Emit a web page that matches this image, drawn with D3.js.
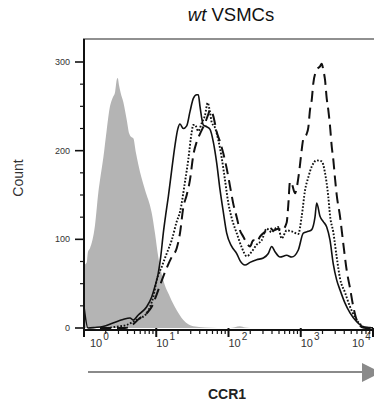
<!DOCTYPE html>
<html><head><meta charset="utf-8">
<script src="https://cdn.jsdelivr.net/npm/d3@7"></script>
<style>
html,body{margin:0;padding:0;background:#fff;}
svg{display:block;font-family:"Liberation Sans",Arial,sans-serif;}
</style></head>
<body>
<svg id="chart" width="374" height="405"></svg>
<script>
// ---- data (CCR1 intensity, count) ----
const isotype = [[1.00,71],[1.09,74],[1.136,86],[1.21,90],[1.42,116],[1.58,153],[1.665,167],[1.85,192],[2.06,223],[2.29,250],[2.42,257],[2.54,261],[2.69,266],[2.84,280],[2.93,282],[3.05,274],[3.22,265],[3.50,255],[3.90,235],[4.24,219],[4.57,215],[4.81,214],[5.25,197],[5.96,176],[6.98,156],[8.65,130],[9.61,107],[10.67,80],[12.5,54],[15.5,35],[19.2,20],[23.7,9],[32.6,2],[47.3,0.6],[105,0],[144,2],[170,0.5],[199,0],[10000,0]];
const solid = [[1.00,24],[1.136,0],[1.42,0.6],[1.83,1.7],[2.52,5.6],[3.47,9.6],[4.33,11.3],[4.81,9],[5.64,14.7],[7.38,24],[8.65,35],[9.61,47],[10.67,62],[11.52,80],[12.52,107],[13.65,130],[14.68,148],[16.36,178],[18.17,206],[19.81,224],[21.32,230],[23.67,225],[26.4,228],[29.3,244],[32.6,259],[36.3,263],[38.2,263],[40.3,250],[44.8,229],[49.9,227],[55.5,224],[61.6,210],[68.7,186],[76.3,156],[84.7,131],[94.4,107],[110.7,92],[129.9,84],[144.3,76],[169.2,71],[198.5,74],[245.5,77],[303.2,79],[355.6,84],[396.3,92],[440.2,86],[516.3,80],[639,82],[749.5,80],[924.7,88],[1085,107],[1272,109],[1418,111],[1574,125],[1663,141],[1847,126],[2051,120],[2287,114],[2541,99],[2822,72],[3146,54],[3494,43],[4099,28],[4806,17],[5948,7],[7340,1.5],[9090,0.6],[10000,0]];
const dotted = [[1.665,0],[1.95,0],[2.84,1.5],[3.90,3.4],[4.81,7.1],[5.96,10.9],[7.38,16.6],[8.20,24],[9.10,35],[10.15,54],[11.9,69],[13.95,84],[16.36,99],[19.19,120],[21.32,131],[25.0,165],[27.77,190],[30.96,221],[32.57,229],[34.4,229],[38.2,222],[42.56,231],[47.3,240],[51.5,254],[55.5,243],[58.56,232],[65.05,226],[72.25,212],[80.5,192],[89.4,167],[99.4,141],[110.7,124],[129.9,107],[152.3,91],[178.6,81],[209.5,86],[245.5,94],[288.1,99],[337.9,112],[396.3,108],[440.2,112],[484.2,114],[544.9,101],[639,110],[749.5,109],[924.7,106],[1031,126],[1145,155],[1272,170],[1418,182],[1663,189],[1950,188],[2166,175],[2406,148],[2541,127],[2822,108],[3146,80],[3494,56],[4099,40],[4806,24],[5636,12],[6609,4.5],[8181,0],[10000,0]];
const dashed = [[1.665,0],[3.69,0],[4.33,1.7],[5.96,11.3],[7.38,16.6],[8.65,24],[10.15,38],[11.27,48],[13.21,63],[16.36,80],[19.19,90],[21.32,107],[23.67,136],[26.4,150],[29.3,167],[32.57,195],[36.3,210],[40.3,219],[47.3,231],[52.5,241],[55.5,246],[61.6,239],[68.7,221],[76.3,210],[84.7,197],[94.4,180],[104.9,160],[116.5,140],[129.9,125],[144.3,110],[160.3,103],[178.6,96],[198.5,92],[220.4,99],[245.5,97],[272.9,103],[337.9,110],[375.3,113],[416.9,110],[489,112],[544.9,110],[639,119],[672.5,139],[710,165],[756.8,162],[832.6,152],[924.7,169],[976.3,184],[1031,201],[1085,213],[1209,219],[1272,226],[1343,246],[1418,257],[1492,276],[1663,291],[1847,295],[1950,298],[2051,291],[2166,280],[2287,259],[2406,246],[2541,228],[2682,205],[2822,190],[2979,169],[3146,150],[3494,126],[3882,95],[4325,65],[4806,45],[5338,24],[5948,9],[6975,1.1],[8000,0],[10000,0]];
const yMajorTicks = [0, 100, 200, 300];
const yMinorTicks = [25, 50, 75, 125, 150, 175, 225, 250, 275];
const xDecades = [0, 1, 2, 3, 4];
const titleItalic = "wt";
const titleRest = " VSMCs";
const xLabel = "CCR1";
const yLabel = "Count";

// ---- layout ----
const svg = d3.select("#chart");
const L = 84, R = 373, T = 39, B = 330;
const x = d3.scaleLog().domain([1, 10000]).range([L, R]);
const y = d3.scaleLinear().domain([0, 300]).range([328, 62]);

svg.append("defs").append("clipPath").attr("id","clip")
  .append("rect").attr("x", L).attr("y", T).attr("width", R - L + 2).attr("height", B - T);

const plot = svg.append("g").attr("clip-path","url(#clip)");

const area = d3.area().x(d => x(d[0])).y0(y(0)).y1(d => y(d[1])).curve(d3.curveMonotoneX);
const line = d3.line().x(d => x(d[0])).y(d => y(d[1])).curve(d3.curveMonotoneX);

plot.append("path").datum(isotype).attr("d", area).attr("fill", "#b4b4b4").attr("stroke","none");
plot.append("path").datum(solid).attr("d", line).attr("fill","none").attr("stroke","#111").attr("stroke-width",1.6);
plot.append("path").datum(dotted).attr("d", line).attr("fill","none").attr("stroke","#111").attr("stroke-width",1.9).attr("stroke-dasharray","1.7,1.7");
plot.append("path").datum(dashed).attr("d", line).attr("fill","none").attr("stroke","#111").attr("stroke-width",2).attr("stroke-dasharray","11,6");

// ---- frame ----
svg.append("line").attr("x1", L - 1).attr("x2", R + 1).attr("y1", T).attr("y2", T).attr("stroke","#222").attr("stroke-width",1.2);
svg.append("line").attr("x1", L).attr("x2", L).attr("y1", T).attr("y2", B + 1.5).attr("stroke","#111").attr("stroke-width",2);
svg.append("line").attr("x1", L - 1).attr("x2", R + 1).attr("y1", B).attr("y2", B).attr("stroke","#111").attr("stroke-width",2);

// ---- y axis ticks ----
const gy = svg.append("g");
gy.selectAll("line.maj").data(yMajorTicks).join("line")
  .attr("x1", L - 9).attr("x2", L).attr("y1", d => y(d)).attr("y2", d => y(d))
  .attr("stroke","#111").attr("stroke-width",1.6);
gy.selectAll("line.min").data(yMinorTicks).join("line")
  .attr("x1", L - 4).attr("x2", L).attr("y1", d => y(d)).attr("y2", d => y(d))
  .attr("stroke","#111").attr("stroke-width",1.2);
gy.selectAll("text").data(yMajorTicks).join("text")
  .attr("x", L - 14).attr("y", d => y(d)).attr("dy","0.35em")
  .attr("text-anchor","end").attr("font-size", 9).attr("fill","#333").text(d => d);

svg.append("text").attr("transform", `translate(23,178) rotate(-90)`)
  .attr("text-anchor","middle").attr("font-size", 14).attr("fill","#333").text(yLabel);

// ---- x axis ticks ----
const minor = [];
xDecades.slice(0, -1).forEach(e => { for (let k = 2; k <= 9; k++) minor.push(k * Math.pow(10, e)); });
const gx = svg.append("g");
gx.selectAll("line.min").data(minor).join("line")
  .attr("x1", d => x(d)).attr("x2", d => x(d)).attr("y1", B).attr("y2", B + 4)
  .attr("stroke","#111").attr("stroke-width",1.2);
gx.selectAll("line.maj").data(xDecades).join("line")
  .attr("x1", d => x(Math.pow(10, d))).attr("x2", d => x(Math.pow(10, d)))
  .attr("y1", B - 2).attr("y2", B + 7).attr("stroke","#111").attr("stroke-width",2);

const labelShift = (e, i) => i === 0 ? 6 : (i === xDecades.length - 1 ? -21 : 0);
const lab = gx.selectAll("text").data(xDecades).join("text")
  .attr("x", (d, i) => x(Math.pow(10, d)) + labelShift(d, i)).attr("y", 347)
  .attr("font-size", 11).attr("fill","#333");
lab.append("tspan").text("10");
lab.append("tspan").attr("dy", -7).attr("dx", 1).attr("font-size", 10).text(d => d);

// arrow
svg.append("line").attr("x1", 88).attr("x2", 364).attr("y1", 372).attr("y2", 372)
  .attr("stroke","#8a8a8a").attr("stroke-width",2.2);
svg.append("path").attr("d", "M362,363 L381,372.5 L362,382 Z").attr("fill","#8a8a8a");

svg.append("text").attr("x", 227).attr("y", 399).attr("text-anchor","middle")
  .attr("font-size", 14).attr("font-weight","bold").attr("fill","#222").text(xLabel);

// title
const t = svg.append("text").attr("x", 231).attr("y", 21).attr("text-anchor","middle")
  .attr("font-size", 18.5).attr("fill","#111");
t.append("tspan").attr("font-style","italic").text(titleItalic);
t.append("tspan").text(titleRest);
</script>
</body></html>
